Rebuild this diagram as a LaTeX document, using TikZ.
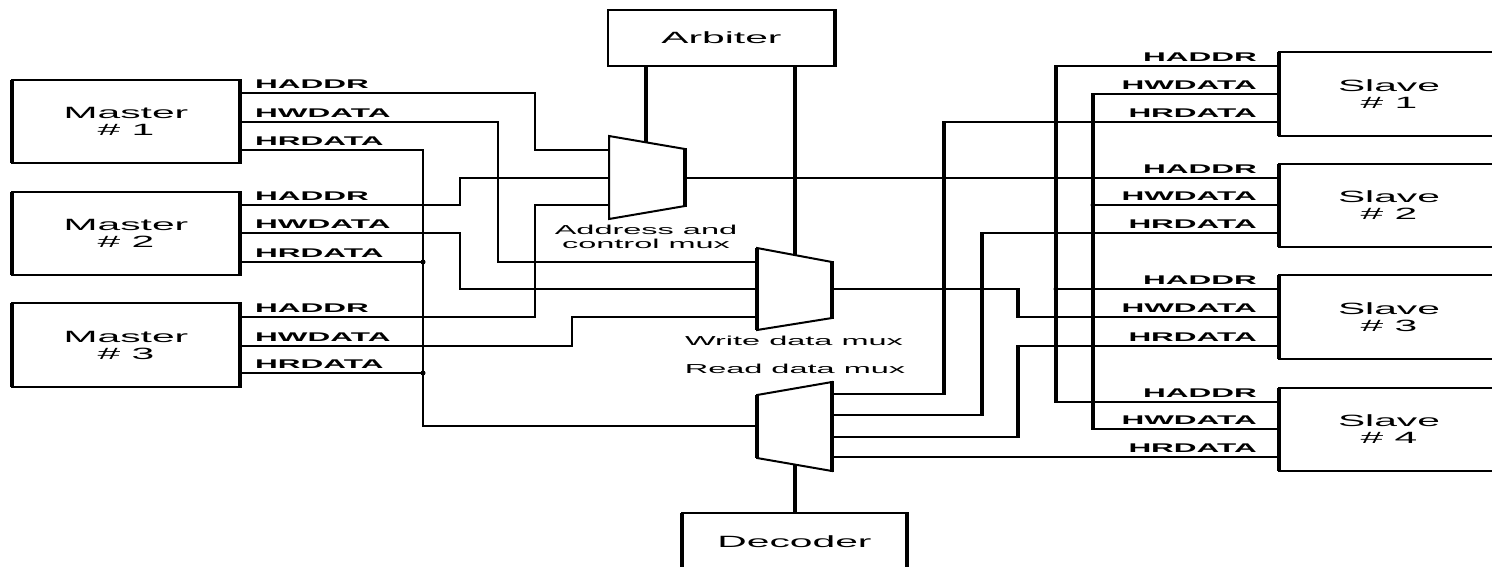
\documentclass[tikz,border=0pt]{standalone}
\usepackage{fontspec}
\setmainfont{Liberation Sans}
\usepackage{graphicx}
\newcommand{\widetext}[1]{\scalebox{2.5}[1]{#1}}
\begin{document}
\begin{tikzpicture}[x=1pt,y=-1pt,
  wire/.style={line width=1.6pt},
  bus/.style={line width=4pt, shorten <=-0.8pt, shorten >=-0.8pt},
  box/.style={draw, line width=2pt, outer sep=0pt, inner sep=0pt, align=center,
              font=\fontsize{16.3}{17}\selectfont},
  vedge/.style={line width=4pt, shorten <=-1pt, shorten >=-1pt},
  thinedge/.style={line width=2.5pt, shorten <=-1pt, shorten >=-1pt},
  sig/.style={font=\fontsize{12.6}{13}\selectfont\bfseries, inner sep=0pt},
  muxlbl/.style={font=\fontsize{13}{13.5}\selectfont, inner sep=0pt, align=center},
  muxedge/.style={line width=2pt, line join=miter},
  jdot/.style={circle, fill, inner sep=0pt, minimum size=5pt}
]
\path[use as bounding box, clip] (0,0) rectangle (1492,566);
\fill[white] (0,0) rectangle (1492,566);

% ---------- boxes ----------
\node[box, minimum width=228pt, minimum height=83pt] (m1) at (126,121.5) {\widetext{Master}\\\widetext{\# 1}};
\node[box, minimum width=228pt, minimum height=83pt] (m2) at (126,233.5) {\widetext{Master}\\\widetext{\# 2}};
\node[box, minimum width=228pt, minimum height=84pt] (m3) at (126,345) {\widetext{Master}\\\widetext{\# 3}};
\node[box, minimum width=227pt, minimum height=56pt] (arb) at (721.5,38) {\widetext{Arbiter}};
\node[box, minimum width=225pt, minimum height=58pt] (dec) at (794.5,542) {\widetext{Decoder}};
\node[box, minimum width=220pt, minimum height=84pt] (s1) at (1389,94) {\widetext{Slave}\\\widetext{\# 1}};
\node[box, minimum width=220pt, minimum height=83pt] (s2) at (1389,205.5) {\widetext{Slave}\\\widetext{\# 2}};
\node[box, minimum width=220pt, minimum height=84pt] (s3) at (1389,317) {\widetext{Slave}\\\widetext{\# 3}};
\node[box, minimum width=220pt, minimum height=83pt] (s4) at (1389,429.5) {\widetext{Slave}\\\widetext{\# 4}};
\foreach \n in {m1,m2,m3,dec,s1,s2,s3,s4}
  \draw[vedge] (\n.north west) -- (\n.south west) (\n.north east) -- (\n.south east);
\draw[thinedge] (arb.north west) -- (arb.south west);
\draw[vedge] (arb.north east) -- (arb.south east);

% ---------- muxes ----------
\coordinate (A1) at (609,136); \coordinate (A2) at (685,149);
\coordinate (A3) at (685,206); \coordinate (A4) at (609,219);
\coordinate (W1) at (757,248); \coordinate (W2) at (832,262);
\coordinate (W3) at (832,318); \coordinate (W4) at (757,330);
\coordinate (R1) at (757,395); \coordinate (R2) at (832,382);
\coordinate (R3) at (832,471); \coordinate (R4) at (757,458);
\draw[muxedge] (A1) -- (A2) -- (A3) -- (A4) -- cycle;
\draw[vedge] (A2) -- (A3);
\draw[muxedge] (W1) -- (W2) -- (W3) -- (W4) -- cycle;
\draw[vedge] (W1) -- (W4) (W2) -- (W3);
\draw[muxedge] (R1) -- (R2) -- (R3) -- (R4) -- cycle;
\draw[vedge] (R1) -- (R4) (R2) -- (R3);

\coordinate (amIn1) at (609,150); \coordinate (amIn2) at (609,178);
\coordinate (amIn3) at (609,205); \coordinate (amOut) at (685,178);
\coordinate (amSel) at (646,142.5);
\coordinate (wmIn1) at (757,262); \coordinate (wmIn2) at (757,289);
\coordinate (wmIn3) at (757,317); \coordinate (wmOut) at (832,289);
\coordinate (wmSel) at (795,255);
\coordinate (rmIn) at (757,426); \coordinate (rmSel) at (795,465);
\coordinate (rmOut1) at (832,394); \coordinate (rmOut2) at (832,415);
\coordinate (rmOut3) at (832,437); \coordinate (rmOut4) at (832,457);

\node[muxlbl] (amLbl) at (646,237) {\widetext{Address and}\\\widetext{control mux}};
\node[muxlbl] (wmLbl) at (794,341) {\widetext{Write data mux}};
\node[muxlbl] (rmLbl) at (795,369) {\widetext{Read data mux}};

% ---------- signal labels ----------
\foreach \m/\ya/\yw/\yr in {1/93/122/150, 2/205/233/262, 3/317/346/373} {
  \node[sig, anchor=base west] (m\m ha) at (255,\ya-4.5) {\widetext{HADDR}};
  \node[sig, anchor=base west] (m\m hw) at (255,\yw-4.5) {\widetext{HWDATA}};
  \node[sig, anchor=base west] (m\m hr) at (255,\yr-4.5) {\widetext{HRDATA}};
}
\foreach \s/\ya/\yw/\yr in {1/66/94/122, 2/178/205/233, 3/289/317/346, 4/402/429/457} {
  \node[sig, anchor=base east] (s\s ha) at (1257,\ya-5) {\widetext{HADDR}};
  \node[sig, anchor=base east] (s\s hw) at (1257,\yw-5) {\widetext{HWDATA}};
  \node[sig, anchor=base east] (s\s hr) at (1257,\yr-5) {\widetext{HRDATA}};
}

% ---------- master side wiring ----------
\coordinate (j1) at (423,262); \coordinate (j2) at (423,373);
\draw[wire] (m1.east |- 0,93) -- (535,93) |- (amIn1);
\draw[wire] (m1.east |- 0,122) -- (498,122) |- (wmIn1);
\draw[wire] (m1.east |- 0,150) -- (423,150) |- (rmIn);
\draw[wire] (m2.east |- 0,205) -- (460,205) |- (amIn2);
\draw[wire] (m2.east |- 0,233) -- (460,233) |- (wmIn2);
\draw[wire] (m2.east |- 0,262) -- (j1);
\draw[wire] (m3.east |- 0,317) -- (535,317) |- (amIn3);
\draw[wire] (m3.east |- 0,346) -- (572,346) |- (wmIn3);
\draw[wire] (m3.east |- 0,373) -- (j2);
\node[jdot] at (j1) {};
\node[jdot] at (j2) {};

% ---------- arbiter / decoder ----------
\draw[bus] (arb.south -| amSel) -- (amSel);
\draw[bus] (arb.south -| wmSel) -- (wmSel);
\draw[bus] (rmSel) -- (rmSel |- dec.north);

% ---------- slave side wiring ----------
% address
\coordinate (haTop) at (1056,66); \coordinate (haBot) at (1056,402);
\coordinate (ha3) at (1056,289); \coordinate (haJ) at (1056,178);
\draw[wire] (amOut) -- (s2.west |- amOut);
\draw[bus] (haTop) -- (haBot);
\draw[wire] (haTop) -- (s1.west |- haTop);
\draw[wire] (ha3) -- (s3.west |- ha3);
\draw[wire] (haBot) -- (s4.west |- haBot);
\node[jdot] at (haJ) {};
\node[jdot] at (ha3) {};
% write data
\coordinate (hwTop) at (1093,94); \coordinate (hwBot) at (1093,429);
\coordinate (hw2) at (1093,205);
\coordinate (wj1) at (1018,289); \coordinate (wj2) at (1018,317);
\draw[wire] (wmOut) -- (wj1);
\draw[bus] (wj1) -- (wj2);
\draw[wire] (wj2) -- (s3.west |- wj2);
\draw[bus] (hwTop) -- (hwBot);
\draw[wire] (hwTop) -- (s1.west |- hwTop);
\draw[wire] (hw2) -- (s2.west |- hw2);
\draw[wire] (hwBot) -- (s4.west |- hwBot);
\node[jdot] at (hw2) {};
% read data
\coordinate (r1a) at (944,394); \coordinate (r1b) at (944,122);
\coordinate (r2a) at (982,415); \coordinate (r2b) at (982,233);
\coordinate (r3a) at (1018,437); \coordinate (r3b) at (1018,346);
\draw[wire] (rmOut1) -- (r1a); \draw[bus] (r1a) -- (r1b); \draw[wire] (r1b) -- (s1.west |- r1b);
\draw[wire] (rmOut2) -- (r2a); \draw[bus] (r2a) -- (r2b); \draw[wire] (r2b) -- (s2.west |- r2b);
\draw[wire] (rmOut3) -- (r3a); \draw[bus] (r3a) -- (r3b); \draw[wire] (r3b) -- (s3.west |- r3b);
\draw[wire] (rmOut4) -- (s4.west |- rmOut4);
\end{tikzpicture}
\end{document}
